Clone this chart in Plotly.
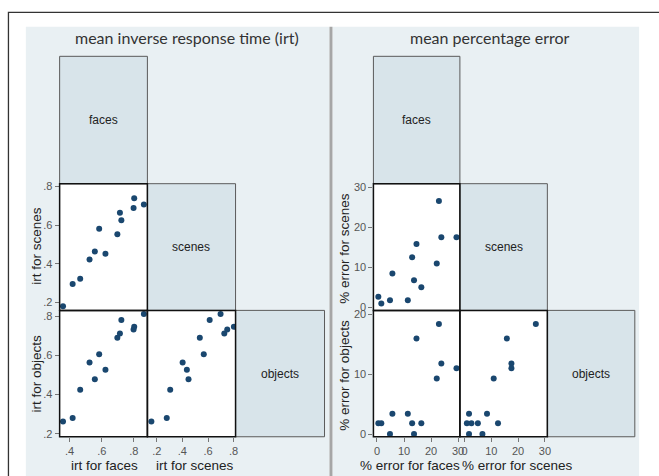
import plotly.graph_objects as go

W, H = 659, 476

# ---------------- data (13 participants) ----------------
diag_labels = ["faces", "scenes", "objects"]

irt_faces   = [0.359, 0.419, 0.466, 0.524, 0.557, 0.584, 0.623, 0.697, 0.713, 0.722, 0.798, 0.802, 0.862]
irt_scenes  = [0.180, 0.295, 0.322, 0.422, 0.463, 0.581, 0.452, 0.552, 0.664, 0.625, 0.688, 0.739, 0.707]
irt_objects = [0.263, 0.281, 0.425, 0.564, 0.479, 0.606, 0.527, 0.690, 0.712, 0.781, 0.732, 0.746, 0.811]
# scenes values as they appear on the x axis of the objects-vs-scenes cell
irt_scenes_x = [0.158, 0.278, 0.305, 0.402, 0.448, 0.567, 0.435, 0.536, 0.727, 0.613, 0.750, 0.802, 0.698]

err_faces   = [0.5, 1.6, 4.8, 5.7, 11.4, 13.0, 13.7, 14.6, 16.4, 22.1, 22.9, 23.8, 29.4]
err_scenes  = [2.6, 0.9, 1.7, 8.4, 1.7, 12.5, 6.7, 15.8, 5.0, 10.9, 26.6, 17.5, 17.5]
err_objects = [1.8, 1.8, 0.0, 3.4, 3.4, 1.8, 0.0, 16.0, 1.8, 9.3, 18.4, 11.8, 11.0]

irt_ticks = [0.2, 0.4, 0.6, 0.8]
irt_ticktext = [".2", ".4", ".6", ".8"]
err_ticks_x = [0, 10, 20, 30]
err_ticks_scenes = [0, 10, 20, 30]
err_ticks_objects = [0, 10, 20]

panel_titles = ["mean inverse response time (irt)", "mean percentage error"]

# ---------------- helpers ----------------
def fx(x):
    return x / W

def fy(y):
    return 1 - y / H

PANEL_BG = "#e9f0f3"
DIAG_BG = "#d8e4ea"
DOT = "#1a476f"
TICKC = "#555555"
FONT = "Liberation Sans, Arial, sans-serif"

rows = [(54, 183), (183, 311.3), (311.3, 439.3)]
cols_l = [(60, 148.3), (148.3, 237), (237, 326.5)]
cols_r = [(375.7, 462.7), (462.7, 550.7), (550.7, 638.7)]

fig = go.Figure()
layout = dict(width=W, height=H, margin=dict(l=0, r=0, t=0, b=0),
              paper_bgcolor="white", plot_bgcolor="rgba(0,0,0,0)",
              showlegend=False)
shapes = []
annotations = []

def rect(x0, y0, x1, y1, fill=None, line=None, lw=0, layer="below"):
    d = dict(type="rect", xref="paper", yref="paper",
             x0=fx(x0), x1=fx(x1), y0=fy(y1), y1=fy(y0), layer=layer,
             line=dict(width=lw, color=line or "rgba(0,0,0,0)"))
    if fill:
        d["fillcolor"] = fill
    shapes.append(d)

# frame and panels
rect(26, 24, 331.5, 480, fill=PANEL_BG)
rect(334.5, 24, 643, 480, fill=PANEL_BG)
rect(331.5, 24, 334.5, 480, fill="#a6a6a6")
rect(8.5, 9.5, 700, 520, line="#333333", lw=1.3)

axis_n = [0]

def add_cell(col, row, x, y, xr, yr, xticks=None, yticks=None):
    axis_n[0] += 1
    n = axis_n[0]
    xa = "xaxis" if n == 1 else f"xaxis{n}"
    ya = "yaxis" if n == 1 else f"yaxis{n}"
    xid = "x" if n == 1 else f"x{n}"
    yid = "y" if n == 1 else f"y{n}"
    base = dict(showgrid=False, zeroline=False, showline=False, fixedrange=True,
                tickfont=dict(size=11, color=TICKC, family=FONT),
                ticklen=4, tickwidth=1, tickcolor="#777777")
    xd = dict(base, domain=[fx(col[0]), fx(col[1])], range=xr, anchor=yid)
    if xticks:
        xd.update(ticks="outside", tickvals=xticks[0], ticktext=xticks[1], showticklabels=True)
    else:
        xd.update(ticks="", showticklabels=False)
    yd = dict(base, domain=[fy(row[1]), fy(row[0])], range=yr, anchor=xid)
    if yticks:
        yd.update(ticks="outside", tickvals=yticks[0], ticktext=yticks[1], showticklabels=True)
    else:
        yd.update(ticks="", showticklabels=False)
    layout[xa] = xd
    layout[ya] = yd
    rect(col[0], row[0], col[1], row[1], fill="white")
    fig.add_trace(go.Scatter(x=x, y=y, mode="markers", xaxis=xid, yaxis=yid,
                             marker=dict(size=6, color=DOT), hoverinfo="skip"))
    shapes.append(dict(type="rect", xref="paper", yref="paper",
                       x0=fx(col[0]), x1=fx(col[1]), y0=fy(row[1]), y1=fy(row[0]),
                       line=dict(color="#111111", width=1.5), layer="above"))

def add_diag(col, row, text):
    rect(col[0], row[0], col[1], row[1], fill=DIAG_BG, line="#5a5a5a", lw=1)
    annotations.append(dict(x=fx((col[0] + col[1]) / 2), y=fy((row[0] + row[1]) / 2),
                            xref="paper", yref="paper", text=text, showarrow=False,
                            xanchor="center", yanchor="middle",
                            font=dict(size=12, color="#222222", family=FONT)))

# ---- left panel: irt ----
irt_x_range = [0.338, 0.884]
irt_sc_y_range = [0.159, 0.814]
irt_ob_y_range = [0.185, 0.830]
irt_sc_x_range = [0.127, 0.815]
add_cell(cols_l[0], rows[1], irt_faces, irt_scenes, irt_x_range, irt_sc_y_range,
         yticks=(irt_ticks, irt_ticktext))
add_cell(cols_l[0], rows[2], irt_faces, irt_objects, irt_x_range, irt_ob_y_range,
         xticks=(irt_ticks[1:], irt_ticktext[1:]), yticks=(irt_ticks, irt_ticktext))
add_cell(cols_l[1], rows[2], irt_scenes_x, irt_objects, irt_sc_x_range, irt_ob_y_range,
         xticks=(irt_ticks, irt_ticktext))
for i, lab in enumerate(diag_labels):
    add_diag(cols_l[i], rows[i], lab)

# ---- right panel: % error ----
err_x_range = [-1.32, 30.66]
err_sc_y_range = [-0.82, 30.92]
err_ob_y_range = [-0.46, 20.69]
err_sc_x_range = [-1.70, 30.89]
add_cell(cols_r[0], rows[1], err_faces, err_scenes, err_x_range, err_sc_y_range,
         yticks=(err_ticks_scenes, [str(v) for v in err_ticks_scenes]))
add_cell(cols_r[0], rows[2], err_faces, err_objects, err_x_range, err_ob_y_range,
         xticks=(err_ticks_x, [str(v) for v in err_ticks_x]),
         yticks=(err_ticks_objects, [str(v) for v in err_ticks_objects]))
add_cell(cols_r[1], rows[2], err_scenes, err_objects, err_sc_x_range, err_ob_y_range,
         xticks=(err_ticks_x, [str(v) for v in err_ticks_x]))
for i, lab in enumerate(diag_labels):
    add_diag(cols_r[i], rows[i], lab)

# ---- axis titles ----
def atitle(x, y, text, angle=0):
    annotations.append(dict(x=fx(x), y=fy(y), xref="paper", yref="paper", text=text,
                            showarrow=False, textangle=angle,
                            xanchor="center", yanchor="middle",
                            font=dict(size=13.5, color="#222222", family=FONT)))

atitle(37, 246, "irt for scenes", -90)
atitle(37, 375.5, "irt for objects", -90)
atitle(105, 468, "irt for faces")
atitle(196, 468, "irt for scenes")
atitle(347, 248, "% error for scenes", -90)
atitle(347, 376.5, "% error for objects", -90)
atitle(412.5, 468, "% error for faces")
atitle(521, 468, "% error for scenes")

# ---- panel titles ----
for x, t in zip([188, 493], panel_titles):
    annotations.append(dict(x=fx(x), y=fy(35), xref="paper", yref="paper", text=t,
                            showarrow=False, xanchor="center", yanchor="middle",
                            font=dict(size=16, color="#333333", family="Lato, Open Sans, sans-serif")))

layout["shapes"] = shapes
layout["annotations"] = annotations
fig.update_layout(**layout)
fig.write_html("out.html", config={"displayModeBar": False},
               post_script="document.body.style.margin='0';document.body.style.overflow='hidden';")
